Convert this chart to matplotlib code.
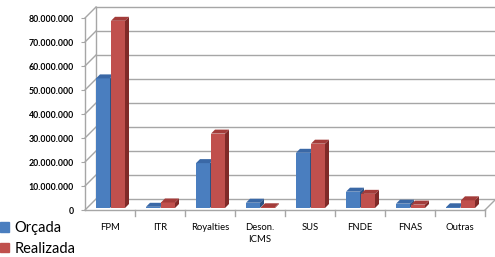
import matplotlib
matplotlib.use("Agg")
import matplotlib.pyplot as plt
from matplotlib.patches import Polygon, Patch

categories = ["FPM", "ITR", "Royalties", "Deson.\nICMS", "SUS", "FNDE", "FNAS", "Outras"]
orcada = [54.0e6, 0.5e6, 18.7e6, 2.2e6, 23.0e6, 6.8e6, 1.8e6, 0.3e6]
realizada = [78.0e6, 2.3e6, 31.0e6, 0.3e6, 26.8e6, 5.9e6, 1.4e6, 3.2e6]
ytick_vals = [0, 10e6, 20e6, 30e6, 40e6, 50e6, 60e6, 70e6, 80e6]
ytick_labels = ["0", "10.000.000", "20.000.000", "30.000.000", "40.000.000",
                "50.000.000", "60.000.000", "70.000.000", "80.000.000"]
series_names = ["Orçada", "Realizada"]

W, H = 495, 257
fig = plt.figure(figsize=(W / 100, H / 100), dpi=100)
fig.patch.set_facecolor("white")

ax_l, ax_r, ax_b, ax_t = 85, 485, 210, 18  # pixel coords (from top)
ax = fig.add_axes([ax_l / W, (H - ax_b) / H, (ax_r - ax_l) / W, (ax_b - ax_t) / H])
n = len(categories)
ymax = 80e6
ax.set_xlim(0, n)
ax.set_ylim(0, ymax)
ax.set_facecolor("none")
for s in ax.spines.values():
    s.set_visible(False)

ux = n / (ax_r - ax_l)          # data units per pixel (x)
uy = ymax / (ax_b - ax_t)       # data units per pixel (y)
WALL = 11                       # wall depth in px
gc = "#a6a6a6"

# back wall gridlines and left wall
for v in ytick_vals:
    ax.plot([WALL * ux, 8.2], [v + WALL * uy] * 2, color=gc, lw=1.0, clip_on=False, zorder=1)
    ax.plot([0, WALL * ux], [v, v + WALL * uy], color=gc, lw=1.0, clip_on=False, zorder=1)
ax.plot([0, 0], [0, ymax], color=gc, lw=1.0, clip_on=False, zorder=1)
ax.plot([WALL * ux] * 2, [WALL * uy, ymax + WALL * uy], color=gc, lw=1.0, clip_on=False, zorder=1)
# floor
ax.plot([0, n], [0, 0], color=gc, lw=1.0, clip_on=False, zorder=1)
ax.plot([n, n + WALL * ux], [0, WALL * uy], color=gc, lw=1.0, clip_on=False, zorder=1)
for i in range(1, n + 1):
    ax.plot([i, i], [0, -6 * uy], color=gc, lw=1.0, clip_on=False, zorder=1)

# bars with pseudo 3D
D0, BD = 2, 4   # bar front offset and bar depth (px)
bw = 0.28
styles = [("#4a7ebf", "#3a68a6", "#2c5283"), ("#c0504d", "#a33c3a", "#7f2a28")]
offsets = [0.22, 0.52]
for si, vals in enumerate([orcada, realizada]):
    front, top, side = styles[si]
    xs = [i + offsets[si] for i in range(n)]
    ax.bar(xs, vals, width=bw, bottom=D0 * uy, align="edge", color=front,
           edgecolor="none", zorder=3, clip_on=False)
    for x, v in zip(xs, vals):
        y0, y1 = D0 * uy, v + D0 * uy
        dx, dy = BD * ux, BD * uy
        ax.add_patch(Polygon([(x + bw, y0), (x + bw + dx, y0 + dy), (x + bw + dx, y1 + dy), (x + bw, y1)],
                             closed=True, color=side, zorder=3, clip_on=False, lw=0))
        ax.add_patch(Polygon([(x, y1), (x + dx, y1 + dy), (x + bw + dx, y1 + dy), (x + bw, y1)],
                             closed=True, color=top, zorder=3, clip_on=False, lw=0))

ax.set_yticks(ytick_vals)
ax.set_yticklabels(ytick_labels, fontsize=6.3, fontweight="bold", family="Lato")
ax.set_xticks([i + 0.5 for i in range(n)])
ax.set_xticklabels(categories, fontsize=6.8, family="Lato", linespacing=1.5)
ax.tick_params(axis="y", length=3, color=gc, pad=5)
ax.tick_params(axis="x", length=0, pad=9)

handles = [Patch(color=styles[0][0]), Patch(color=styles[1][0])]
fig.legend(handles, series_names, loc="upper left", bbox_to_anchor=(0.0, 0.14),
           bbox_transform=fig.transFigure, frameon=False,
           handlelength=0.65, handleheight=0.65, handletextpad=0.35, labelspacing=0.45,
           borderpad=0, borderaxespad=0, prop={"family": "Lato", "size": 10.5})

fig.savefig("out.png", dpi=100)
